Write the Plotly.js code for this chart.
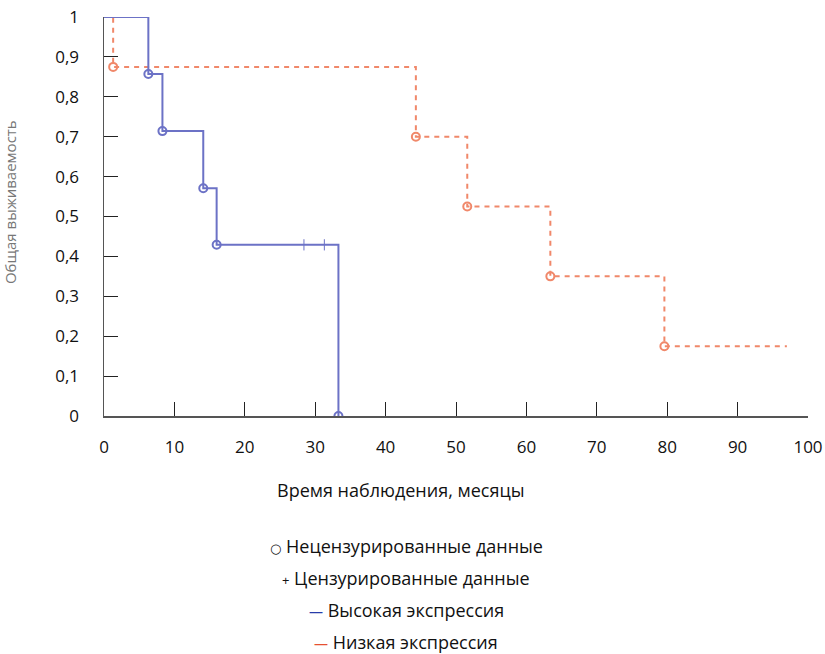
<!DOCTYPE html>
<html>
<head>
<meta charset="utf-8">
<script src="https://cdn.plot.ly/plotly-3.0.1.min.js"></script>
<style>html,body{margin:0;padding:0;background:#fff;}#chart{width:825px;height:654px;}</style>
</head>
<body>
<div id="chart"></div>
<script>
// High expression (blue)
const highTimes = [0, 6.3, 8.3, 14.1, 16.0, 33.3];
const highSurv  = [1, 0.857, 0.714, 0.571, 0.429, 0];
const highCensTimes = [28.4, 31.3];
const highCensSurv  = [0.429, 0.429];
// Low expression (orange)
const lowTimes = [0, 1.3, 44.3, 51.6, 63.4, 79.6, 97.0];
const lowSurv  = [1, 0.875, 0.7, 0.525, 0.35, 0.175, 0.175];
// ticks
const xTickVals = [0, 10, 20, 30, 40, 50, 60, 70, 80, 90, 100];
const xTickText = ['0','10','20','30','40','50','60','70','80','90','100'];
const yTickVals = [0, 0.1, 0.2, 0.3, 0.4, 0.5, 0.6, 0.7, 0.8, 0.9, 1];
const yTickText = ['0','0,1','0,2','0,3','0,4','0,5','0,6','0,7','0,8','0,9','1'];
const legendLabels = ['Нецензурированные данные','Цензурированные данные','Высокая экспрессия','Низкая экспрессия'];
const xTitle = 'Время наблюдения, месяцы';
const yTitle = 'Общая выживаемость';

const blue = 'rgb(108,114,198)';
const orange = 'rgb(240,136,106)';

const traces = [
  {x: lowTimes, y: lowSurv, mode: 'lines', line: {shape: 'hv', color: orange, width: 2, dash: '5px,5px'}, hoverinfo: 'skip'},
  {x: lowTimes.slice(1, 6), y: lowSurv.slice(1, 6), mode: 'markers',
   marker: {symbol: 'circle-open', size: 8, color: orange, line: {width: 2, color: orange}}},
  {x: highTimes, y: highSurv, mode: 'lines', line: {shape: 'hv', color: blue, width: 2}},
  {x: highTimes.slice(1), y: highSurv.slice(1), mode: 'markers',
   marker: {symbol: 'circle-open', size: 8, color: blue, line: {width: 2, color: blue}}},
  {x: highCensTimes, y: highCensSurv, mode: 'markers',
   marker: {symbol: 'line-ns-open', size: 8, color: blue, line: {width: 1, color: blue}}}
];

const fontFam = '"Open Sans", "DejaVu Sans", sans-serif';
const legX = 0.4294;
const legFont = {size: 18, color: '#111'};
const layout = {
  width: 825, height: 654,
  margin: {l: 104, r: 17, t: 17, b: 238},
  paper_bgcolor: '#fff', plot_bgcolor: '#fff',
  showlegend: false,
  font: {family: fontFam, size: 17, color: '#111'},
  xaxis: {range: [0, 100], tickvals: xTickVals, ticktext: xTickText, ticks: 'inside', ticklen: 14,
          tickcolor: '#222', tickwidth: 1, showgrid: false, zeroline: false, showline: true,
          linecolor: '#555', linewidth: 1.5, ticklabelstandoff: 15, tickfont: {size: 17, color: '#111'}},
  yaxis: {range: [0, 1], tickvals: yTickVals, ticktext: yTickText, ticks: 'inside', ticklen: 14,
          tickcolor: '#222', tickwidth: 1, showgrid: false, zeroline: false, showline: true,
          linecolor: '#555', linewidth: 1.5, ticklabelstandoff: 20, tickfont: {size: 17, color: '#111'}},
  annotations: [
    {xref: 'paper', yref: 'paper', x: legX - 0.008, y: -0.1856, text: xTitle, showarrow: false,
     font: {size: 18, color: '#111'}, xanchor: 'center', yanchor: 'middle'},
    {xref: 'paper', yref: 'paper', x: -0.1345, y: 0.537, text: yTitle, showarrow: false, textangle: -90,
     font: {size: 15, color: '#777'}, xanchor: 'center', yanchor: 'middle'},
    {xref: 'paper', yref: 'paper', x: legX, y: -0.326, showarrow: false, xanchor: 'center', yanchor: 'middle',
     text: '<span style="font-size:13px">○</span> ' + legendLabels[0], font: legFont},
    {xref: 'paper', yref: 'paper', x: legX, y: -0.406, showarrow: false, xanchor: 'center', yanchor: 'middle',
     text: '<span style="font-size:13px">+</span> ' + legendLabels[1], font: legFont},
    {xref: 'paper', yref: 'paper', x: legX, y: -0.486, showarrow: false, xanchor: 'center', yanchor: 'middle',
     text: '<span style="color:rgb(40,60,170);font-size:14px">—</span> ' + legendLabels[2], font: legFont},
    {xref: 'paper', yref: 'paper', x: legX, y: -0.567, showarrow: false, xanchor: 'center', yanchor: 'middle',
     text: '<span style="color:rgb(230,80,50);font-size:14px">—</span> ' + legendLabels[3], font: legFont}
  ]
};

Plotly.newPlot('chart', traces, layout, {displayModeBar: false, staticPlot: true});
</script>
</body>
</html>
